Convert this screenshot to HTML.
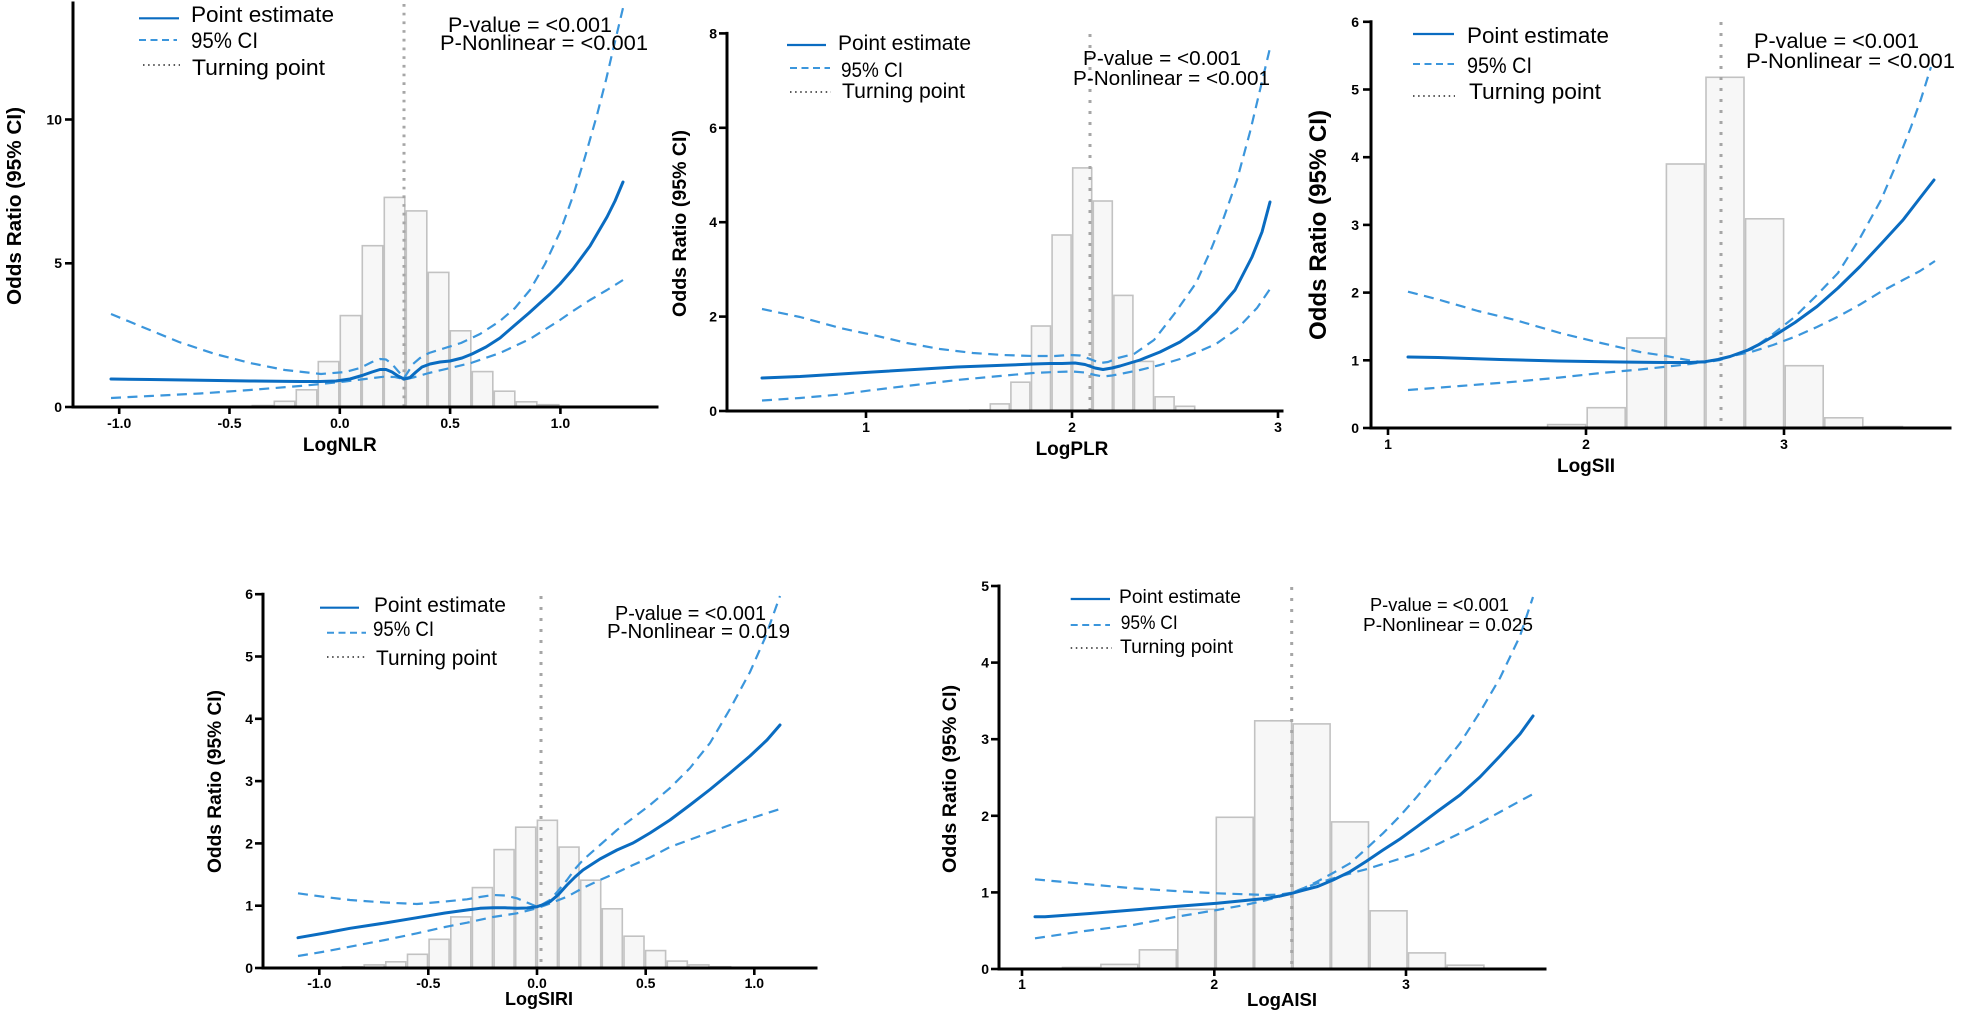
<!DOCTYPE html>
<html><head><meta charset="utf-8">
<style>
html,body{margin:0;padding:0;background:#fff;}
svg{display:block;}
text{font-family:"Liberation Sans",Arial,sans-serif;fill:#000;}
.b{font-weight:bold;}
.bar{fill:#f7f7f7;stroke:#c2c2c2;stroke-width:1.6;}
.ax{stroke:#000;stroke-width:3;fill:none;stroke-linecap:square;}
.tk{stroke:#000;stroke-width:2.6;}
.turn{stroke:#a6a6a6;stroke-width:3;stroke-dasharray:3 8;fill:none;}
.pe{stroke:#0a6cc1;stroke-width:3;fill:none;stroke-linejoin:round;stroke-linecap:round;}
.ci{stroke:#3b96dc;stroke-width:2.2;fill:none;stroke-dasharray:10 6.5;stroke-linejoin:round;}
.lpe{stroke:#0a6cc1;stroke-width:2.2;}
.lci{stroke:#3b96dc;stroke-width:2;stroke-dasharray:7 4.5;}
.ldt{stroke:#222;stroke-width:1.6;stroke-dasharray:1.5 3.6;}
</style></head><body>
<svg width="1975" height="1014" viewBox="0 0 1975 1014" xmlns="http://www.w3.org/2000/svg">

<!-- ================= PANEL 1 : LogNLR ================= -->
<g>
<rect class="bar" x="252.3" y="405.6" width="20.5" height="1.4"/>
<rect class="bar" x="274.3" y="401.3" width="20.5" height="5.7"/>
<rect class="bar" x="296.3" y="389.8" width="20.5" height="17.2"/>
<rect class="bar" x="318.3" y="361.6" width="20.5" height="45.4"/>
<rect class="bar" x="340.3" y="315.6" width="20.5" height="91.4"/>
<rect class="bar" x="362.3" y="245.7" width="20.5" height="161.3"/>
<rect class="bar" x="384.3" y="197.4" width="20.5" height="209.6"/>
<rect class="bar" x="406.3" y="210.9" width="20.5" height="196.1"/>
<rect class="bar" x="428.3" y="272.4" width="20.5" height="134.6"/>
<rect class="bar" x="450.3" y="330.8" width="20.5" height="76.2"/>
<rect class="bar" x="472.3" y="371.6" width="20.5" height="35.4"/>
<rect class="bar" x="494.3" y="391.2" width="20.5" height="15.8"/>
<rect class="bar" x="516.3" y="401.8" width="20.5" height="5.2"/>
<rect class="bar" x="538.3" y="404.7" width="20.5" height="2.3"/>
<line class="turn" style="stroke-dasharray:2.7 6" x1="404" y1="4" x2="404" y2="406"/>
<polyline class="ci" points="111,314 140,326 179,342 215,354 250,363 285,370 321,374 345,372 360,368 372,362 380,359 386,359.5 392,364 398,371 404,378 408,372 413,364 420,358 429,353 445,348 461,343 480,334 500,321 515,308 530,290 545,264 560,232 573,196 585,157 597,115 606,80 613,50 623,8"/>
<polyline class="ci" points="111,398 150,396 200,393.5 250,390 300,386 321,384 345,381.5 365,379 384,376.7 395,377 405,379.5 415,377 429,373 450,368 471,363 500,353 530,339 560,320 573,311 590,300 607,290 623,280"/>
<polyline class="pe" points="111,379 150,379.5 185,380 250,381 300,381.5 320,381.5 336,381 350,379 362,375.5 372,372 380,369.5 386,369.5 392,372 398,376 404,379 410,377.5 416,372 422,367 430,364 440,362 450,361 462,358 472,354 486,347 500,338 515,325 529,313 540,303 550,294 560,284 573,269 590,246 607,217 615,201 623,182"/>
<line class="ax" x1="73" y1="3" x2="73" y2="407"/>
<line class="ax" x1="73" y1="407" x2="657" y2="407"/>
<line class="tk" x1="65" y1="407" x2="73" y2="407"/>
<line class="tk" x1="65" y1="263.3" x2="73" y2="263.3"/>
<line class="tk" x1="65" y1="119.5" x2="73" y2="119.5"/>
<text class="b" font-size="14" text-anchor="end" x="62" y="412">0</text>
<text class="b" font-size="14" text-anchor="end" x="62" y="268">5</text>
<text class="b" font-size="14" text-anchor="end" x="62" y="124.5">10</text>
<line class="tk" x1="119.2" y1="407" x2="119.2" y2="414"/>
<line class="tk" x1="229.5" y1="407" x2="229.5" y2="414"/>
<line class="tk" x1="339.8" y1="407" x2="339.8" y2="414"/>
<line class="tk" x1="450.1" y1="407" x2="450.1" y2="414"/>
<line class="tk" x1="560.4" y1="407" x2="560.4" y2="414"/>
<text class="b" font-size="14" text-anchor="middle" x="119.2" y="428">-1.0</text>
<text class="b" font-size="14" text-anchor="middle" x="229.5" y="428">-0.5</text>
<text class="b" font-size="14" text-anchor="middle" x="339.8" y="428">0.0</text>
<text class="b" font-size="14" text-anchor="middle" x="450.1" y="428">0.5</text>
<text class="b" font-size="14" text-anchor="middle" x="560.4" y="428">1.0</text>
<text class="b" font-size="19" text-anchor="middle" x="339.8" y="451">LogNLR</text>
<text class="b" font-size="20" text-anchor="middle" transform="translate(21,206) rotate(-90)" textLength="198" lengthAdjust="spacingAndGlyphs">Odds Ratio (95% CI)</text>
<line class="lpe" x1="139" y1="18.3" x2="179" y2="18.3"/>
<line class="lci" x1="139" y1="40" x2="177" y2="40"/>
<line class="ldt" x1="143" y1="65" x2="180" y2="65"/>
<text font-size="22" x="191" y="22" textLength="143" lengthAdjust="spacingAndGlyphs">Point estimate</text>
<text font-size="22" x="191" y="48" textLength="67" lengthAdjust="spacingAndGlyphs">95% CI</text>
<text font-size="22" x="192" y="75" textLength="133" lengthAdjust="spacingAndGlyphs">Turning point</text>
<text font-size="21.5" x="448" y="32" textLength="164" lengthAdjust="spacingAndGlyphs">P-value = &lt;0.001</text>
<text font-size="21.5" x="440" y="50" textLength="208" lengthAdjust="spacingAndGlyphs">P-Nonlinear = &lt;0.001</text>
</g>

<!-- ================= PANEL 2 : LogPLR ================= -->
<g>
<rect class="bar" x="969.7" y="410" width="19" height="1"/>
<rect class="bar" x="990.3" y="403.9" width="19" height="7.1"/>
<rect class="bar" x="1010.9" y="382.2" width="19" height="28.8"/>
<rect class="bar" x="1031.5" y="326" width="19" height="85"/>
<rect class="bar" x="1052.1" y="235" width="19" height="176"/>
<rect class="bar" x="1072.7" y="167.9" width="19" height="243.1"/>
<rect class="bar" x="1093.3" y="201" width="19" height="210"/>
<rect class="bar" x="1113.9" y="295.4" width="19" height="115.6"/>
<rect class="bar" x="1134.5" y="361.4" width="19" height="49.6"/>
<rect class="bar" x="1155.1" y="396.8" width="19" height="14.2"/>
<rect class="bar" x="1175.7" y="406.3" width="19" height="4.7"/>
<line class="turn" x1="1090" y1="34" x2="1090" y2="410"/>
<polyline class="ci" points="762,309 800,317 840,328 873,335 907,343 940,349 973,353 1003,355 1033,356 1055,356 1070,355 1080,355.5 1090,359 1100,363 1108,362 1118,358 1134,354 1154,340 1175,313 1196,283 1210,252 1224,217 1237,180 1250,132 1260,90 1270,48"/>
<polyline class="ci" points="762,400.5 800,398 840,394.5 873,390 915,385 957,380 1000,376 1033,373 1055,372 1072,371.5 1085,372.5 1095,375 1103,376.5 1112,375.5 1125,373 1140,370 1160,365 1180,359 1200,351 1216,344 1237,329 1257,308 1270,289"/>
<polyline class="pe" points="762,378 800,376.5 873,372 957,367 1010,365 1033,364 1050,363.5 1062,363.5 1075,363 1085,364.5 1095,368 1103,369.5 1112,368 1120,366 1140,360 1160,352 1180,342 1197,330 1216,312 1235,290 1252,257 1262,232 1270,202"/>
<line class="ax" x1="727" y1="33.4" x2="727" y2="411"/>
<line class="ax" x1="727" y1="411" x2="1282" y2="411"/>
<line class="tk" x1="719" y1="411" x2="727" y2="411"/>
<line class="tk" x1="719" y1="316.6" x2="727" y2="316.6"/>
<line class="tk" x1="719" y1="222.2" x2="727" y2="222.2"/>
<line class="tk" x1="719" y1="127.8" x2="727" y2="127.8"/>
<line class="tk" x1="719" y1="33.4" x2="727" y2="33.4"/>
<text class="b" font-size="14" text-anchor="end" x="717" y="416">0</text>
<text class="b" font-size="14" text-anchor="end" x="717" y="321.6">2</text>
<text class="b" font-size="14" text-anchor="end" x="717" y="227.2">4</text>
<text class="b" font-size="14" text-anchor="end" x="717" y="132.8">6</text>
<text class="b" font-size="14" text-anchor="end" x="717" y="38.4">8</text>
<line class="tk" x1="866" y1="411" x2="866" y2="418"/>
<line class="tk" x1="1072" y1="411" x2="1072" y2="418"/>
<line class="tk" x1="1278" y1="411" x2="1278" y2="418"/>
<text class="b" font-size="14" text-anchor="middle" x="866" y="432">1</text>
<text class="b" font-size="14" text-anchor="middle" x="1072" y="432">2</text>
<text class="b" font-size="14" text-anchor="middle" x="1278" y="432">3</text>
<text class="b" font-size="19" text-anchor="middle" x="1072" y="455">LogPLR</text>
<text class="b" font-size="19.5" text-anchor="middle" transform="translate(686,223.5) rotate(-90)" textLength="187" lengthAdjust="spacingAndGlyphs">Odds Ratio (95% CI)</text>
<line class="lpe" x1="787" y1="45" x2="826" y2="45"/>
<line class="lci" x1="790" y1="68" x2="830" y2="68"/>
<line class="ldt" x1="790" y1="92" x2="831" y2="92"/>
<text font-size="21" x="838" y="50" textLength="133" lengthAdjust="spacingAndGlyphs">Point estimate</text>
<text font-size="21" x="841" y="77" textLength="62" lengthAdjust="spacingAndGlyphs">95% CI</text>
<text font-size="21" x="842" y="98" textLength="123" lengthAdjust="spacingAndGlyphs">Turning point</text>
<text font-size="20.7" x="1083" y="65" textLength="158" lengthAdjust="spacingAndGlyphs">P-value = &lt;0.001</text>
<text font-size="20.7" x="1073" y="85" textLength="197" lengthAdjust="spacingAndGlyphs">P-Nonlinear = &lt;0.001</text>
</g>

<!-- ================= PANEL 3 : LogSII ================= -->
<g>
<rect class="bar" x="1547.6" y="424.6" width="38" height="3.4"/>
<rect class="bar" x="1587.2" y="407.7" width="38" height="20.3"/>
<rect class="bar" x="1626.8" y="338" width="38" height="90"/>
<rect class="bar" x="1666.4" y="164" width="38" height="264"/>
<rect class="bar" x="1706" y="77.3" width="38" height="350.7"/>
<rect class="bar" x="1745.6" y="218.8" width="38" height="209.2"/>
<rect class="bar" x="1785.2" y="365.7" width="38" height="62.3"/>
<rect class="bar" x="1824.8" y="417.8" width="38" height="10.2"/>
<rect class="bar" x="1864.4" y="426.6" width="38" height="1.4"/>
<line class="turn" x1="1721" y1="22" x2="1721" y2="427"/>
<polyline class="ci" points="1408,291.7 1440,300 1478,311 1515,320 1560,333 1601,343 1640,352 1666,356 1690,360.5 1705,362.5 1720,360 1735,355 1752,349 1773,334 1795,316.7 1816,296 1838,273 1860,238 1881,200 1896,165 1911,127 1921,99 1931,67"/>
<polyline class="ci" points="1408,390 1460,386 1515,381.7 1560,377.5 1601,373 1640,369.5 1666,366.7 1690,364 1705,361.7 1730,356.5 1752,351.7 1773,345 1795,336.7 1817,327 1838,316.7 1860,304.5 1881,291.7 1903,280 1920,271 1935,261"/>
<polyline class="pe" points="1408,357 1438,357.5 1500,359.5 1558,361 1620,362 1666,362.5 1690,362.5 1705,361.7 1718,359.5 1730,356.5 1748,350 1760,344 1773,336.5 1795,322.5 1817,306.5 1838,288 1860,266.5 1881,244 1903,220 1920,198 1934,180"/>
<line class="ax" x1="1371" y1="21.8" x2="1371" y2="428"/>
<line class="ax" x1="1371" y1="428" x2="1950" y2="428"/>
<line class="tk" x1="1363" y1="428" x2="1371" y2="428"/>
<line class="tk" x1="1363" y1="360.3" x2="1371" y2="360.3"/>
<line class="tk" x1="1363" y1="292.6" x2="1371" y2="292.6"/>
<line class="tk" x1="1363" y1="224.9" x2="1371" y2="224.9"/>
<line class="tk" x1="1363" y1="157.2" x2="1371" y2="157.2"/>
<line class="tk" x1="1363" y1="89.5" x2="1371" y2="89.5"/>
<line class="tk" x1="1363" y1="21.8" x2="1371" y2="21.8"/>
<text class="b" font-size="14" text-anchor="end" x="1359" y="433">0</text>
<text class="b" font-size="14" text-anchor="end" x="1359" y="365.3">1</text>
<text class="b" font-size="14" text-anchor="end" x="1359" y="297.6">2</text>
<text class="b" font-size="14" text-anchor="end" x="1359" y="229.9">3</text>
<text class="b" font-size="14" text-anchor="end" x="1359" y="162.2">4</text>
<text class="b" font-size="14" text-anchor="end" x="1359" y="94.5">5</text>
<text class="b" font-size="14" text-anchor="end" x="1359" y="26.8">6</text>
<line class="tk" x1="1388" y1="428" x2="1388" y2="435"/>
<line class="tk" x1="1586" y1="428" x2="1586" y2="435"/>
<line class="tk" x1="1784" y1="428" x2="1784" y2="435"/>
<text class="b" font-size="14" text-anchor="middle" x="1388" y="449">1</text>
<text class="b" font-size="14" text-anchor="middle" x="1586" y="449">2</text>
<text class="b" font-size="14" text-anchor="middle" x="1784" y="449">3</text>
<text class="b" font-size="19" text-anchor="middle" x="1586" y="472">LogSII</text>
<text class="b" font-size="24" text-anchor="middle" transform="translate(1326,225) rotate(-90)" textLength="230" lengthAdjust="spacingAndGlyphs">Odds Ratio (95% CI)</text>
<line class="lpe" x1="1413" y1="34" x2="1454" y2="34"/>
<line class="lci" x1="1413" y1="64" x2="1454" y2="64"/>
<line class="ldt" x1="1413" y1="96" x2="1455" y2="96"/>
<text font-size="22.5" x="1467" y="43" textLength="142" lengthAdjust="spacingAndGlyphs">Point estimate</text>
<text font-size="22.5" x="1467" y="73" textLength="65" lengthAdjust="spacingAndGlyphs">95% CI</text>
<text font-size="22.5" x="1469" y="99" textLength="132" lengthAdjust="spacingAndGlyphs">Turning point</text>
<text font-size="21.7" x="1754" y="48" textLength="165" lengthAdjust="spacingAndGlyphs">P-value = &lt;0.001</text>
<text font-size="21.7" x="1746" y="68" textLength="209" lengthAdjust="spacingAndGlyphs">P-Nonlinear = &lt;0.001</text>
</g>

<!-- ================= PANEL 4 : LogSIRI ================= -->
<g>
<rect class="bar" x="342.5" y="966.75" width="20" height="1.25"/>
<rect class="bar" x="364.2" y="964.9" width="20" height="3.1"/>
<rect class="bar" x="385.8" y="961.8" width="20" height="6.2"/>
<rect class="bar" x="407.5" y="954.3" width="20" height="13.7"/>
<rect class="bar" x="429.1" y="939.3" width="20" height="28.7"/>
<rect class="bar" x="450.8" y="916.9" width="20" height="51.1"/>
<rect class="bar" x="472.4" y="887.6" width="20" height="80.4"/>
<rect class="bar" x="494.1" y="849.6" width="20" height="118.4"/>
<rect class="bar" x="515.7" y="827.2" width="20" height="140.8"/>
<rect class="bar" x="537.4" y="820.3" width="20" height="147.7"/>
<rect class="bar" x="559" y="847.1" width="20" height="120.9"/>
<rect class="bar" x="580.7" y="880.2" width="20" height="87.8"/>
<rect class="bar" x="602.3" y="908.8" width="20" height="59.2"/>
<rect class="bar" x="624" y="936.2" width="20" height="31.8"/>
<rect class="bar" x="645.6" y="950.6" width="20" height="17.4"/>
<rect class="bar" x="667.3" y="961.1" width="20" height="6.9"/>
<rect class="bar" x="688.9" y="964.9" width="20" height="3.1"/>
<rect class="bar" x="710.6" y="966.75" width="20" height="1.25"/>
<line class="turn" x1="541" y1="596" x2="541" y2="967"/>
<polyline class="ci" points="298,893.3 325,897 350,900 385,902.5 417,904 445,901.5 467,899.3 480,897 493,895 505,895.5 517,898.3 527,902.5 537,906.7 543,904 550,900 558,891 567,880 575,869 583,860 600,845 617,830 633,818 650,805 670,788 690,768 710,743 730,709 750,672 765,638 780,596"/>
<polyline class="ci" points="298,956 325,951.5 350,946.7 385,940 417,933.3 445,927 467,922.7 493,917 517,913.3 537,908.3 550,903.5 567,896.7 583,888 600,880 617,872.5 633,865 650,857.5 670,847 700,836 730,825 755,817 780,809"/>
<polyline class="pe" points="298,937.7 325,933 350,928.3 385,923 417,917.7 445,913 467,910 480,908.3 493,907.7 505,907.8 517,908.3 527,908 537,906.7 545,904 550,901.7 558,895 567,885 575,877 583,870 600,859 617,850 633,843 650,833 670,820 690,805 710,789.5 730,773 750,756 767,740 780,725"/>
<line class="ax" x1="263" y1="594.2" x2="263" y2="968"/>
<line class="ax" x1="263" y1="968" x2="816" y2="968"/>
<line class="tk" x1="255" y1="968" x2="263" y2="968"/>
<line class="tk" x1="255" y1="905.7" x2="263" y2="905.7"/>
<line class="tk" x1="255" y1="843.4" x2="263" y2="843.4"/>
<line class="tk" x1="255" y1="781.1" x2="263" y2="781.1"/>
<line class="tk" x1="255" y1="718.8" x2="263" y2="718.8"/>
<line class="tk" x1="255" y1="656.5" x2="263" y2="656.5"/>
<line class="tk" x1="255" y1="594.2" x2="263" y2="594.2"/>
<text class="b" font-size="14" text-anchor="end" x="253" y="973">0</text>
<text class="b" font-size="14" text-anchor="end" x="253" y="910.7">1</text>
<text class="b" font-size="14" text-anchor="end" x="253" y="848.4">2</text>
<text class="b" font-size="14" text-anchor="end" x="253" y="786.1">3</text>
<text class="b" font-size="14" text-anchor="end" x="253" y="723.8">4</text>
<text class="b" font-size="14" text-anchor="end" x="253" y="661.5">5</text>
<text class="b" font-size="14" text-anchor="end" x="253" y="599.2">6</text>
<line class="tk" x1="319.3" y1="968" x2="319.3" y2="975"/>
<line class="tk" x1="428.3" y1="968" x2="428.3" y2="975"/>
<line class="tk" x1="537" y1="968" x2="537" y2="975"/>
<line class="tk" x1="645.7" y1="968" x2="645.7" y2="975"/>
<line class="tk" x1="754.3" y1="968" x2="754.3" y2="975"/>
<text class="b" font-size="14" text-anchor="middle" x="319.3" y="988">-1.0</text>
<text class="b" font-size="14" text-anchor="middle" x="428.3" y="988">-0.5</text>
<text class="b" font-size="14" text-anchor="middle" x="537" y="988">0.0</text>
<text class="b" font-size="14" text-anchor="middle" x="645.7" y="988">0.5</text>
<text class="b" font-size="14" text-anchor="middle" x="754.3" y="988">1.0</text>
<text class="b" font-size="18.5" text-anchor="middle" x="539" y="1005" textLength="68" lengthAdjust="spacingAndGlyphs">LogSIRI</text>
<text class="b" font-size="19" text-anchor="middle" transform="translate(221,781.5) rotate(-90)" textLength="183" lengthAdjust="spacingAndGlyphs">Odds Ratio (95% CI)</text>
<line class="lpe" x1="320" y1="607.7" x2="359" y2="607.7"/>
<line class="lci" x1="327" y1="632.7" x2="366" y2="632.7"/>
<line class="ldt" x1="327" y1="657" x2="367" y2="657"/>
<text font-size="21" x="374" y="612" textLength="132" lengthAdjust="spacingAndGlyphs">Point estimate</text>
<text font-size="21" x="373" y="636" textLength="61" lengthAdjust="spacingAndGlyphs">95% CI</text>
<text font-size="21" x="376" y="665" textLength="121" lengthAdjust="spacingAndGlyphs">Turning point</text>
<text font-size="20" x="615" y="620" textLength="151" lengthAdjust="spacingAndGlyphs">P-value = &lt;0.001</text>
<text font-size="20" x="607" y="638" textLength="183" lengthAdjust="spacingAndGlyphs">P-Nonlinear = 0.019</text>
</g>

<!-- ================= PANEL 5 : LogAISI ================= -->
<g>
<rect class="bar" x="1062.5" y="967.5" width="36.9" height="1.5"/>
<rect class="bar" x="1100.9" y="964.4" width="36.9" height="4.6"/>
<rect class="bar" x="1139.4" y="949.85" width="36.9" height="19.15"/>
<rect class="bar" x="1177.8" y="909.3" width="36.9" height="59.7"/>
<rect class="bar" x="1216.3" y="817.3" width="36.9" height="151.7"/>
<rect class="bar" x="1254.7" y="720.8" width="36.9" height="248.2"/>
<rect class="bar" x="1293.2" y="723.9" width="36.9" height="245.1"/>
<rect class="bar" x="1331.6" y="821.9" width="36.9" height="147.1"/>
<rect class="bar" x="1370.1" y="910.8" width="36.9" height="58.2"/>
<rect class="bar" x="1408.5" y="952.9" width="36.9" height="16.1"/>
<rect class="bar" x="1447" y="965.2" width="36.9" height="3.8"/>
<line class="turn" x1="1291.7" y1="587" x2="1291.7" y2="968"/>
<polyline class="ci" points="1035,879.3 1085,884 1133,888.3 1175,891 1217,893.3 1267,895 1280,894.5 1292,892.7 1304,888 1317,881.7 1333,873 1350,863.3 1366,849 1383,833.3 1400,816 1417,796.7 1438,771 1460,743.3 1480,712 1500,678 1520,636 1533,597"/>
<polyline class="ci" points="1035,938.3 1085,931 1133,925 1175,917 1217,910 1245,905 1267,900 1280,896.5 1292,892.7 1304,888 1317,883.3 1341,876 1367,869 1391,861.5 1417,853.3 1438,844 1460,833.3 1480,823 1500,812 1520,801 1533,794"/>
<polyline class="pe" points="1035,916.7 1045,916.7 1090,913.5 1133,910 1175,906.5 1217,903.3 1245,900.5 1267,898.3 1280,896 1292,893.3 1304,890 1317,886.7 1333,880 1350,871.7 1366,861.5 1383,850 1400,839 1417,826.7 1438,811 1460,795 1480,777 1500,756 1520,734 1533,716"/>
<line class="ax" x1="999" y1="586" x2="999" y2="969"/>
<line class="ax" x1="999" y1="969" x2="1545" y2="969"/>
<line class="tk" x1="991" y1="969" x2="999" y2="969"/>
<line class="tk" x1="991" y1="892.4" x2="999" y2="892.4"/>
<line class="tk" x1="991" y1="815.8" x2="999" y2="815.8"/>
<line class="tk" x1="991" y1="739.2" x2="999" y2="739.2"/>
<line class="tk" x1="991" y1="662.6" x2="999" y2="662.6"/>
<line class="tk" x1="991" y1="586" x2="999" y2="586"/>
<text class="b" font-size="14" text-anchor="end" x="989" y="974">0</text>
<text class="b" font-size="14" text-anchor="end" x="989" y="897.4">1</text>
<text class="b" font-size="14" text-anchor="end" x="989" y="820.8">2</text>
<text class="b" font-size="14" text-anchor="end" x="989" y="744.2">3</text>
<text class="b" font-size="14" text-anchor="end" x="989" y="667.6">4</text>
<text class="b" font-size="14" text-anchor="end" x="989" y="591">5</text>
<line class="tk" x1="1022" y1="969" x2="1022" y2="976"/>
<line class="tk" x1="1214.3" y1="969" x2="1214.3" y2="976"/>
<line class="tk" x1="1406" y1="969" x2="1406" y2="976"/>
<text class="b" font-size="14" text-anchor="middle" x="1022" y="989">1</text>
<text class="b" font-size="14" text-anchor="middle" x="1214.3" y="989">2</text>
<text class="b" font-size="14" text-anchor="middle" x="1406" y="989">3</text>
<text class="b" font-size="18.5" text-anchor="middle" x="1282" y="1006" textLength="70" lengthAdjust="spacingAndGlyphs">LogAISI</text>
<text class="b" font-size="19.5" text-anchor="middle" transform="translate(956,779) rotate(-90)" textLength="188" lengthAdjust="spacingAndGlyphs">Odds Ratio (95% CI)</text>
<line class="lpe" x1="1070.7" y1="599" x2="1110" y2="599"/>
<line class="lci" x1="1070.7" y1="625" x2="1110" y2="625"/>
<line class="ldt" x1="1070.7" y1="648" x2="1112" y2="648"/>
<text font-size="19" x="1119" y="603" textLength="122" lengthAdjust="spacingAndGlyphs">Point estimate</text>
<text font-size="19" x="1120.7" y="629" textLength="57" lengthAdjust="spacingAndGlyphs">95% CI</text>
<text font-size="19" x="1120" y="653" textLength="113" lengthAdjust="spacingAndGlyphs">Turning point</text>
<text font-size="18.5" x="1370" y="611" textLength="139" lengthAdjust="spacingAndGlyphs">P-value = &lt;0.001</text>
<text font-size="18.5" x="1363" y="631" textLength="170" lengthAdjust="spacingAndGlyphs">P-Nonlinear = 0.025</text>
</g>

</svg>
</body></html>
